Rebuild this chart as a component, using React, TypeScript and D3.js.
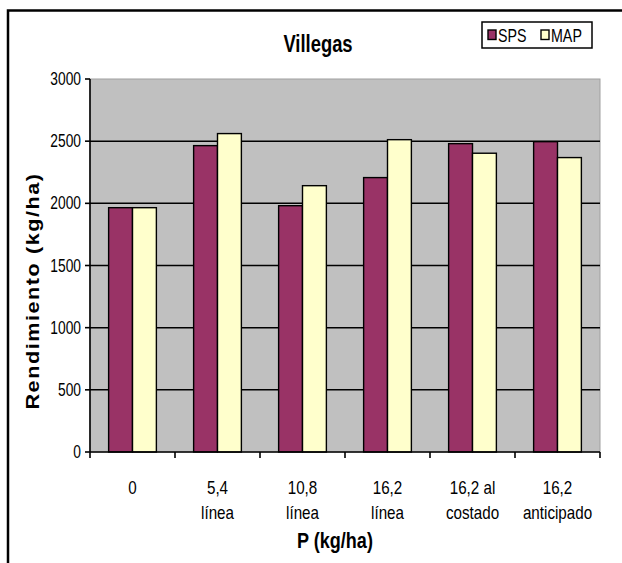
import React from "react";
import * as d3 from "d3";

const categories: string[][] = [
  ["0"],
  ["5,4", "línea"],
  ["10,8", "línea"],
  ["16,2", "línea"],
  ["16,2 al", "costado"],
  ["16,2", "anticipado"],
];
const seriesNames = ["SPS", "MAP"];
const spsValues = [1965, 2464, 1981, 2207, 2480, 2496];
const mapValues = [1965, 2561, 2142, 2512, 2403, 2368];
const yTicks = [0, 500, 1000, 1500, 2000, 2500, 3000];
const colors = ["#993366", "#FFFFCC"];

const W = 622;
const H = 563;
const FONT = "'Liberation Sans', Arial, sans-serif";
const SY = 1.2;

const plot = { left: 90, right: 600, top: 79, bottom: 452 };

function T({ x, y, size, bold, anchor, children, rotate, sx }: any) {
  const tr = rotate
    ? `translate(${x},${y}) rotate(-90) scale(${SY},1)`
    : `translate(${x},${y}) scale(${sx || 1},${SY})`;
  return (
    <text
      transform={tr}
      fontFamily={FONT}
      fontSize={size}
      fontWeight={bold ? "bold" : "normal"}
      textAnchor={anchor || "middle"}
      fill="#000"
    >
      {children}
    </text>
  );
}

export default function App() {
  const x0 = d3
    .scaleBand<number>()
    .domain(d3.range(categories.length))
    .range([plot.left, plot.right]);
  const x1 = d3
    .scaleBand<number>()
    .domain([0, 1])
    .range([0, x0.bandwidth()])
    .paddingInner(0)
    .paddingOuter(0.78);
  const y = d3.scaleLinear().domain([0, 3000]).range([plot.bottom, plot.top]);
  const series = [spsValues, mapValues];

  return (
    <svg
      width={W}
      height={H}
      style={{ position: "absolute", left: 0, top: 0, display: "block" }}
    >
      <rect x={0} y={0} width={W} height={H} fill="#fff" />
      {/* outer border */}
      <rect x={8} y={10.5} width={W + 20} height={H + 20} fill="none" stroke="#000" strokeWidth={2.5} />
      {/* plot background */}
      <rect
        x={plot.left}
        y={plot.top}
        width={plot.right - plot.left}
        height={plot.bottom - plot.top}
        fill="#C0C0C0"
        stroke="#A0A0A0"
        strokeWidth={1}
      />
      {/* gridlines */}
      {yTicks.filter((t) => t > 0 && t < 3000).map((t) => (
        <line key={t} x1={plot.left} x2={plot.right} y1={y(t)} y2={y(t)} stroke="#000" strokeWidth={1.5} />
      ))}
      {/* bars */}
      {categories.map((_, i) =>
        series.map((vals, s) => (
          <rect
            key={`${i}-${s}`}
            x={(x0(i) as number) + (x1(s) as number)}
            y={y(vals[i])}
            width={x1.bandwidth()}
            height={y(0) - y(vals[i])}
            fill={colors[s]}
            stroke="#000"
            strokeWidth={1.4}
          />
        ))
      )}
      {/* y axis */}
      <line x1={plot.left} x2={plot.left} y1={plot.top} y2={plot.bottom} stroke="#000" strokeWidth={1.6} />
      {yTicks.map((t) => (
        <g key={t}>
          <line x1={plot.left - 5} x2={plot.left} y1={y(t)} y2={y(t)} stroke="#000" strokeWidth={1.6} />
          <T x={plot.left - 9} y={y(t) + 6} size={15} anchor="end" sx={0.92}>{t}</T>
        </g>
      ))}
      {/* x axis */}
      <line x1={plot.left} x2={plot.right} y1={plot.bottom} y2={plot.bottom} stroke="#000" strokeWidth={1.6} />
      {d3.range(categories.length + 1).map((i) => {
        const xx = plot.left + i * x0.bandwidth();
        return <line key={i} x1={xx} x2={xx} y1={plot.bottom} y2={plot.bottom + 6} stroke="#000" strokeWidth={1.6} />;
      })}
      {categories.map((lines, i) => (
        <g key={i}>
          {lines.map((l, k) => (
            <T key={k} x={(x0(i) as number) + x0.bandwidth() / 2} y={494 + k * 24.5} size={16} sx={0.95}>
              {l}
            </T>
          ))}
        </g>
      ))}
      {/* axis titles */}
      <T x={(plot.left + plot.right) / 2 - 10} y={548} size={19} bold sx={0.95}>P (kg/ha)</T>
      <T x={39} y={291} size={18} bold rotate>
        <tspan letterSpacing={1.3}>Rendimiento (kg/ha)</tspan>
      </T>
      {/* title */}
      <T x={318} y={52} size={20} bold sx={0.92}>Villegas</T>
      {/* legend */}
      <rect x={482} y={22} width={110} height={26} fill="#fff" stroke="#000" strokeWidth={1.5} />
      {seriesNames.map((n, i) => {
        const lx = 488 + i * 53;
        return (
          <g key={n}>
            <rect x={lx} y={30} width={8} height={9.5} fill={colors[i]} stroke="#000" strokeWidth={1.4} />
            <T x={lx + 10} y={41.5} size={15.5} anchor="start" sx={0.92}>{n}</T>
          </g>
        );
      })}
    </svg>
  );
}
